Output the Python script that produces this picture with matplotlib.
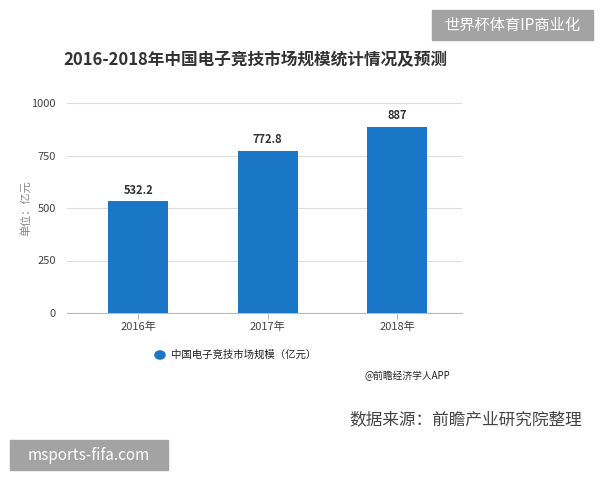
import matplotlib
matplotlib.use("Agg")
import matplotlib.pyplot as plt

plt.rcParams['font.family'] = ['Noto Sans CJK SC', 'DejaVu Sans']

categories = ["2016年", "2017年", "2018年"]
values = [532.2, 772.8, 887]
value_labels = ["532.2", "772.8", "887"]
yticks = [0, 250, 500, 750, 1000]
series_name = "中国电子竞技市场规模（亿元）"
title = "2016-2018年中国电子竞技市场规模统计情况及预测"

W, H = 600, 480
fig = plt.figure(figsize=(6, 4.8), dpi=100)
fig.patch.set_facecolor("white")

def fx(px):
    return px / W

def fy(py):
    return 1 - py / H

ax = fig.add_axes([fx(67), fy(313), fx(462) - fx(67), fy(103) - fy(313)])
bar_color = "#1a76c6"
x = list(range(len(categories)))
ax.bar(x, values, width=0.46, color=bar_color, zorder=3)
for xi, v, lab in zip(x, values, value_labels):
    ax.text(xi, v + 22, lab, ha="center", va="bottom", fontsize=8,
            fontweight="bold", color="#333333")
ax.set_xlim(-0.55, 2.5)
ax.set_ylim(0, 1000)
ax.set_yticks(yticks)
ax.set_yticklabels([str(t) for t in yticks], fontsize=8, color="#444444")
ax.set_xticks(x)
ax.set_xticklabels(categories, fontsize=8, color="#444444")
ax.grid(axis="y", color="#dddddd", linewidth=0.8, zorder=0)
for s in ["top", "right", "left"]:
    ax.spines[s].set_visible(False)
ax.spines["bottom"].set_color("#bbbbbb")
ax.tick_params(axis="y", length=0, pad=8)
ax.tick_params(axis="x", length=4, color="#bbbbbb", pad=2)
ax.set_ylabel("单位：亿元", fontsize=8, color="#888888", labelpad=0)

# title
fig.text(fx(255), fy(60), title, ha="center", va="center", fontsize=12,
         fontweight="bold", color="#333333")

# legend
fig.patches.append(plt.Circle((fx(160), fy(355)), 0.0085, transform=fig.transFigure,
                              color=bar_color, figure=fig))
fig.text(fx(171), fy(355), series_name, ha="left", va="center", fontsize=7.5,
         color="#222222")
fig.text(fx(365), fy(376), "@前瞻经济学人APP", ha="left", va="center", fontsize=7,
         color="#222222")

# source
fig.text(fx(582), fy(420), "数据来源：前瞻产业研究院整理", ha="right", va="center",
         fontsize=12, color="#444444")

# top-right badge
fig.patches.append(plt.Rectangle((fx(432), fy(40)), fx(593) - fx(432), fy(10) - fy(40),
                                 transform=fig.transFigure, color="#a3a3a3", figure=fig))
fig.text(fx(512), fy(25), "世界杯体育IP商业化", ha="center", va="center", fontsize=11,
         color="white")

# bottom-left badge
fig.patches.append(plt.Rectangle((fx(10), fy(470)), fx(168) - fx(10), fy(440) - fy(470),
                                 transform=fig.transFigure, color="#a3a3a3", figure=fig))
fig.text(fx(89), fy(455), "msports-fifa.com", ha="center", va="center", fontsize=11,
         color="white")

fig.savefig("out.png", dpi=100)
